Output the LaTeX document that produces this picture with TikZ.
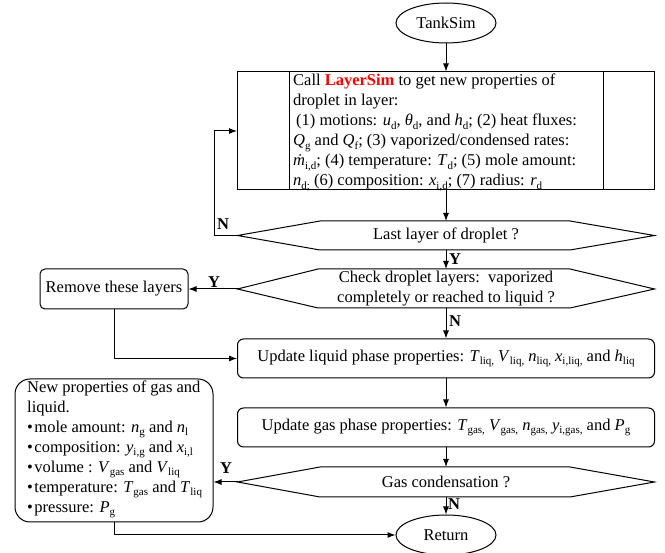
\documentclass[tikz,border=0pt]{standalone}
\usepackage{fontspec}
\setmainfont{Liberation Serif}
\usetikzlibrary{arrows.meta,shapes.geometric}
\newcommand\vs[2]{\textit{#1}\raisebox{-0.22em}{\fontsize{11}{11}\selectfont #2}}
\newcommand\bul{\textbullet\hspace{1.5pt}}
\tikzset{
  ln/.style={line width=1pt},
  arr/.style={ln, -{Latex[length=8pt,width=6pt]}},
  term/.style={ellipse, draw, ln, minimum width=100pt, minimum height=40pt, inner sep=0pt},
  proc/.style={draw, ln, rounded corners=6pt, minimum width=417pt, minimum height=39pt, inner sep=0pt},
  lbl/.style={font=\fontsize{16.5}{20}\selectfont\bfseries, inner sep=0pt},
  hexline/.style={ln}
}
\begin{document}
\begin{tikzpicture}[x=1pt, y=-1pt, font=\fontsize{16.5}{20}\selectfont]
\useasboundingbox (0,0) rectangle (665,553);

% terminals
\node[term] (tank) at (446,23) {TankSim};
\node[term] (ret) at (446,535) {Return};

% main call box
\node[draw, ln, minimum width=417pt, minimum height=118pt, inner sep=0pt] (main) at (446,131) {};
\draw[ln] ([xshift=52pt]main.north west) -- ([xshift=52pt]main.south west);
\draw[ln] ([xshift=-52pt]main.north east) -- ([xshift=-52pt]main.south east);
\node[anchor=north west, align=left, inner sep=0pt] (maintxt) at (293,74) {%
Call \textcolor{red}{\textbf{LayerSim}} to get new properties of\\
droplet in layer:\\
\hspace{3pt}(1) motions: \vs{u}{d}, \vs{θ}{d}, and \vs{h}{d}; (2) heat fluxes:\\
\vs{Q}{g} and \vs{Q}{f}; (3) vaporized/condensed rates:\\
\vs{\.m}{i,d}; (4) temperature: \vs{T}{d}; (5) mole amount:\\
\vs{n}{d;} (6) composition: \vs{x}{i,d}; (7) radius: \vs{r}{d}};

% hexagon 1
\coordinate (h1w) at (237.5,235.5);
\coordinate (h1e) at (654.5,235.5);
\coordinate (h1n) at (446,221);
\coordinate (h1s) at (446,250);
\draw[hexline] (h1w) -- (320,221) -- (570,221) -- (h1e) -- (570,250) -- (320,250) -- cycle;
\node (h1) at (446,235.5) {Last layer of droplet ?};

% hexagon 2
\coordinate (h2w) at (237.5,289);
\coordinate (h2e) at (654.5,289);
\coordinate (h2n) at (446,269);
\coordinate (h2s) at (446,308);
\draw[hexline] (h2w) -- (318,269) -- (570,269) -- (h2e) -- (570,308) -- (318,308) -- cycle;
\node[align=center] (h2) at (446,289) {Check droplet layers:\ \ vaporized\\completely or reached to liquid ?};

% remove box
\node[draw, ln, rounded corners=5pt, minimum width=148pt, minimum height=40pt, inner sep=0pt] (remove) at (114,289) {Remove these layers};

% process boxes
\node[proc] (liquid) at (446,358.5) {Update liquid phase properties: \vs{T}{liq,} \vs{V}{liq,} \vs{n}{liq,} \vs{x}{i,liq,} and \vs{h}{liq}};
\node[proc] (gas) at (446,427.5) {Update gas phase properties: \vs{T}{gas,} \vs{V}{gas,} \vs{n}{gas,} \vs{y}{i,gas,} and \vs{P}{g}};

% hexagon 3
\coordinate (h3w) at (237.5,482);
\coordinate (h3e) at (654.5,482);
\coordinate (h3n) at (446,467);
\coordinate (h3s) at (446,497);
\draw[hexline] (h3w) -- (320,467) -- (570,467) -- (h3e) -- (570,497) -- (320,497) -- cycle;
\node (h3) at (446,482) {Gas condensation ?};

% new properties box
\node[draw, ln, rounded corners=15pt, minimum width=198pt, minimum height=143pt, inner sep=0pt] (newp) at (114,450.5) {};
\node[anchor=north west, align=left, inner sep=0pt] (newtxt) at (27,380.5) {%
New properties of gas and\\
liquid.\\
\bul mole amount: \vs{n}{g} and \vs{n}{l}\\
\bul composition: \vs{y}{i,g} and \vs{x}{i,l}\\
\bul volume : \vs{V}{gas} and \vs{V}{liq}\\
\bul temperature: \vs{T}{gas} and \vs{T}{liq}\\
\bul pressure: \vs{P}{g}};

% connectors
\draw[arr] (tank.south) -- (main.north);
\draw[arr] (main.south) -- (h1n);
\draw[arr] (h1w) -- ++(-23.5,0) |- (main.west);
\draw[arr] (h1s) -- (h2n);
\draw[arr] (h2w) -- (remove.east);
\draw[arr] (h2s) -- (liquid.north);
\draw[arr] (remove.south) |- (liquid.west);
\draw[arr] (liquid.south) -- (gas.north);
\draw[arr] (gas.south) -- (h3n);
\draw[arr] (h3w) -- (h3w -| newp.east);
\draw[arr] (h3s) -- (ret.north);
\draw[arr] (newp.south) |- (ret.west);

% labels
\node[lbl] (lN1) at (223,224) {N};
\node[lbl] (lY1) at (455,259) {Y};
\node[lbl] (lY2) at (214,282) {Y};
\node[lbl] (lN2) at (455,321) {N};
\node[lbl] (lY3) at (226,468) {Y};
\node[lbl] (lN3) at (454,504) {N};
\end{tikzpicture}
\end{document}
